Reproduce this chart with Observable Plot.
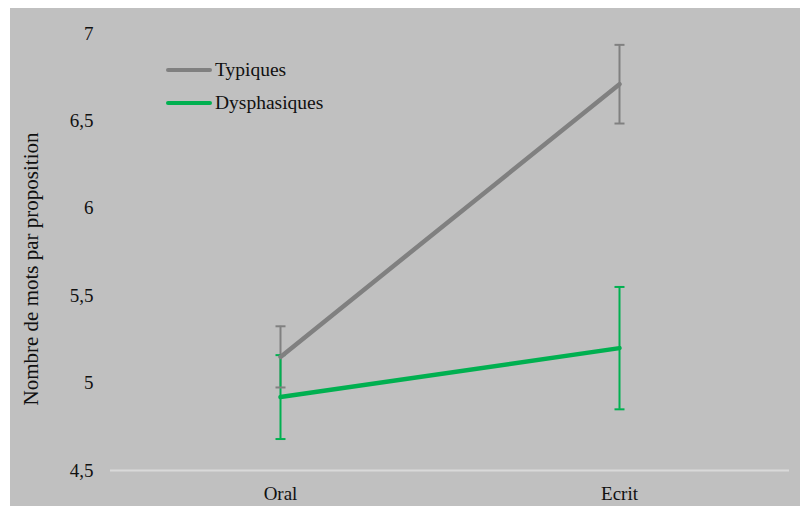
<!DOCTYPE html>
<html><head><meta charset="utf-8">
<script src="https://cdn.jsdelivr.net/npm/d3@7"></script>
<script src="https://cdn.jsdelivr.net/npm/@observablehq/plot@0.6"></script>
<style>
html,body{margin:0;padding:0;background:#fff;}
#wrap{position:absolute;left:10px;top:8px;width:790px;height:498px;background:#c0c0c0;overflow:hidden;}
#legend{position:absolute;left:156px;top:45px;font-family:"Liberation Serif","Times New Roman",serif;font-size:19.5px;color:#111;}
.item{display:flex;align-items:center;height:33px;}
.sw{width:46px;height:4px;border-radius:2px;margin-right:3px;}
</style></head><body>
<div id="wrap"><div id="legend"></div></div>
<script>
const categories = ["Oral", "Ecrit"];
const series = ["Typiques", "Dysphasiques"];
const typiques = [5.15, 6.71];
const typiquesErr = [0.175, 0.225];
const dysphasiques = [4.92, 5.20];
const dysphasiquesErr = [0.24, 0.35];
const yTicks = [4.5, 5, 5.5, 6, 6.5, 7];
const colors = ["#808080", "#00b050"];

const rows = [];
categories.forEach((c, i) => {
  rows.push({cat: c, series: series[0], v: typiques[i], e: typiquesErr[i]});
  rows.push({cat: c, series: series[1], v: dysphasiques[i], e: dysphasiquesErr[i]});
});
const cap = {draw(ctx, size){ ctx.moveTo(-5,0); ctx.lineTo(5,0); }};
const fmt = d => String(d).replace(".", ",");

const chart = Plot.plot({
  width: 790, height: 498,
  marginLeft: 100, marginRight: 11, marginTop: 25, marginBottom: 36,
  style: {background: "transparent", color: "#111", fontFamily: "Liberation Serif", fontSize: "19px"},
  x: {type: "point", domain: categories, padding: 0.5, label: null},
  y: {domain: [4.5, 7], ticks: yTicks, tickFormat: fmt, label: "Nombre de mots par proposition"},
  color: {domain: series, range: colors},
  marks: [
    Plot.ruleY([4.5], {stroke: "#d9d9d9", strokeWidth: 2}),
    Plot.axisY({ticks: yTicks, tickSize: 0, tickPadding: 17, tickFormat: fmt, label: "Nombre de mots par proposition", labelAnchor: "center", labelArrow: "none", labelOffset: 87}),
    Plot.axisX({tickSize: 0, tickPadding: 16}),
    Plot.ruleX(rows, {x: "cat", y1: d => d.v - d.e, y2: d => d.v + d.e, stroke: "series", strokeWidth: 2}),
    Plot.dot(rows, {x: "cat", y: d => d.v + d.e, symbol: cap, stroke: "series", strokeWidth: 2, fill: "none"}),
    Plot.dot(rows, {x: "cat", y: d => d.v - d.e, symbol: cap, stroke: "series", strokeWidth: 2, fill: "none"}),
    Plot.line(rows, {x: "cat", y: "v", z: "series", stroke: "series", strokeWidth: 4.5, strokeLinecap: "round"})
  ]
});
d3.select(chart).selectAll('g[aria-label="y-axis label"], g[aria-label="y-axis label"] text')
  .attr("font-size", 21).style("font-size", "21px");
const lab = d3.select(chart).select('g[aria-label="y-axis label"]');
lab.attr("transform", "translate(0,17) " + (lab.attr("transform") || ""));
document.getElementById("wrap").prepend(chart);
const lg = document.getElementById("legend");
series.forEach((s, i) => {
  const it = document.createElement("div"); it.className = "item";
  it.innerHTML = `<div class="sw" style="background:${colors[i]}"></div><span>${s}</span>`;
  lg.appendChild(it);
});
</script></body></html>
